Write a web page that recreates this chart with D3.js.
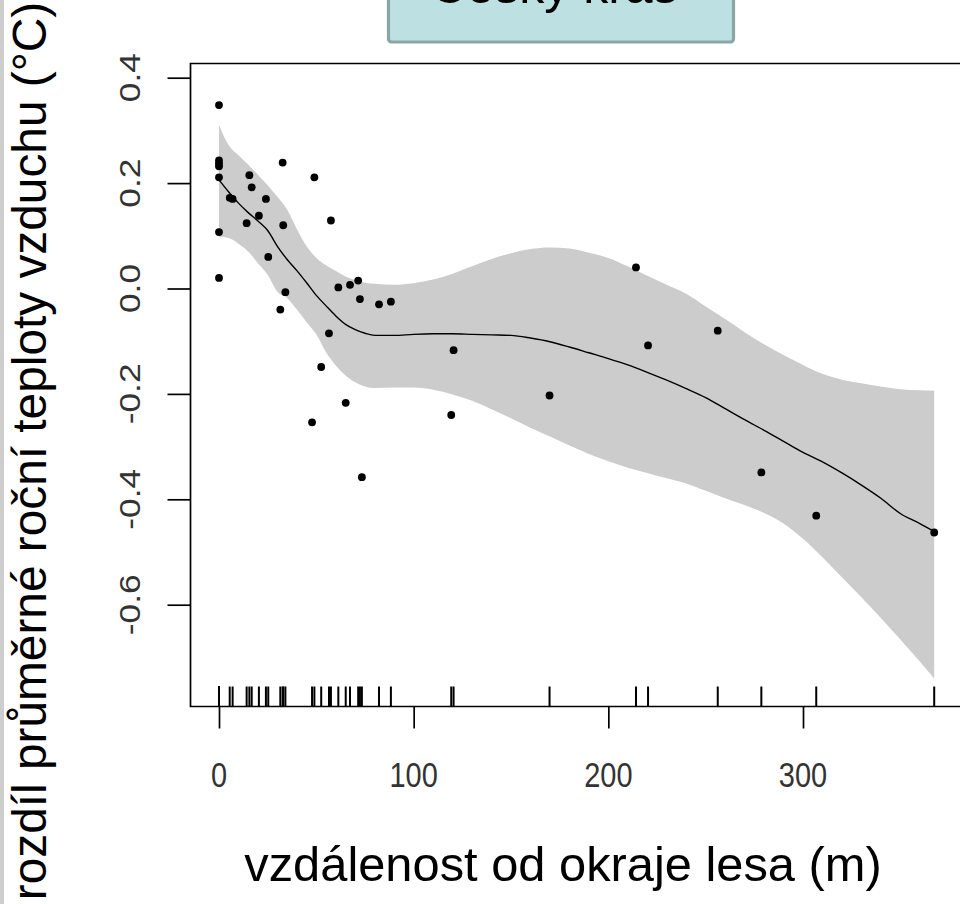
<!DOCTYPE html>
<html><head><meta charset="utf-8">
<script src="https://cdn.jsdelivr.net/npm/d3@7"></script>
<style>html,body{margin:0;padding:0;background:#fff;}svg{display:block;}</style>
</head><body>
<script>
// ---- data ----
const title = "Český kras";
const xLabel = "vzdálenost od okraje lesa (m)";
const yLabel = "rozdíl průměrné roční teploty vzduchu (°C)";
const xTicks = [0, 100, 200, 300];
const yTicks = [-0.6, -0.4, -0.2, 0.0, 0.2, 0.4];
const yTickLabels = ["-0.6", "-0.4", "-0.2", "0.0", "0.2", "0.4"];

const pointX = [0,0,0,0,0,0,0,5.5,7,15.6,16.8,14.2,20.5,24.1,25.3,32.7,33.0,34.1,31.5,49.0,57.5,56.5,61.3,67.3,71.5,72.4,82.2,88.3,52.5,65.1,47.8,73.4,120.5,119.3,169.8,214.2,220.4,256.2,278.6,306.8,367.4];
const pointY = [0.348,0.243,0.237,0.232,0.211,0.107,0.020,0.172,0.170,0.215,0.192,0.124,0.138,0.170,0.060,0.239,0.120,-0.007,-0.040,0.211,0.129,-0.085,0.002,0.007,0.015,-0.020,-0.030,-0.025,-0.149,-0.217,-0.254,-0.358,-0.117,-0.240,-0.203,0.040,-0.108,-0.080,-0.349,-0.431,-0.463];

const fitX = [0,5,10,15,20,25,30,35,40,45,50,55,60,65,70,75,80,90,100,110,120,130,140,150,160,170,180,190,200,210,220,230,240,250,260,270,280,290,300,310,320,330,340,350,360,367.4];
const fitY = [0.206,0.183,0.162,0.144,0.128,0.110,0.080,0.055,0.034,0.011,-0.013,-0.033,-0.052,-0.068,-0.078,-0.085,-0.089,-0.089,-0.087,-0.086,-0.086,-0.087,-0.088,-0.089,-0.094,-0.101,-0.111,-0.122,-0.133,-0.145,-0.159,-0.174,-0.190,-0.207,-0.228,-0.249,-0.269,-0.290,-0.311,-0.329,-0.350,-0.373,-0.398,-0.427,-0.446,-0.461];
const upperY = [0.310,0.272,0.253,0.235,0.216,0.196,0.174,0.150,0.113,0.080,0.058,0.044,0.033,0.023,0.016,0.011,0.009,0.007,0.010,0.017,0.028,0.042,0.056,0.067,0.075,0.078,0.076,0.068,0.058,0.042,0.024,0.007,-0.010,-0.034,-0.058,-0.083,-0.106,-0.126,-0.145,-0.162,-0.173,-0.180,-0.186,-0.191,-0.193,-0.194];
const lowerY = [0.098,0.096,0.085,0.070,0.048,0.026,-0.006,-0.018,-0.040,-0.064,-0.087,-0.121,-0.146,-0.165,-0.178,-0.186,-0.189,-0.188,-0.188,-0.192,-0.201,-0.213,-0.229,-0.246,-0.264,-0.281,-0.298,-0.314,-0.328,-0.340,-0.350,-0.360,-0.370,-0.384,-0.398,-0.411,-0.426,-0.446,-0.475,-0.510,-0.548,-0.586,-0.625,-0.666,-0.708,-0.740];

// ---- layout ----
const W = 960, H = 904;
const box = {left: 190.5, top: 63.5, right: 966, bottom: 706.5};
const x = d3.scaleLinear().domain([0, 300]).range([219, 803]);
const y = d3.scaleLinear().domain([-0.6, 0.4]).range([604.7, 77.7]);

const svg = d3.select("body").append("svg").attr("width", W).attr("height", H);
svg.append("rect").attr("width", W).attr("height", H).attr("fill", "#fff");

// left textured strip
svg.append("rect").attr("x", 0).attr("y", 0).attr("width", 4).attr("height", H).attr("fill", "#cdcdcd");

// band
const band = fitX.map((d, i) => ({x: d, lo: lowerY[i], hi: upperY[i], f: fitY[i]}));
svg.append("path").datum(band)
  .attr("d", d3.area().x(d => x(d.x)).y0(d => y(d.lo)).y1(d => y(d.hi)).curve(d3.curveMonotoneX))
  .attr("fill", "#cccccc");
svg.append("path").datum(band)
  .attr("d", d3.line().x(d => x(d.x)).y(d => y(d.f)).curve(d3.curveMonotoneX))
  .attr("fill", "none").attr("stroke", "#000").attr("stroke-width", 1.4);

// points
const pts = pointX.map((d, i) => ({x: d, y: pointY[i]}));
svg.append("g").selectAll("circle").data(pts).join("circle")
  .attr("cx", d => x(d.x)).attr("cy", d => y(d.y)).attr("r", 3.9).attr("fill", "#000");

// rug
svg.append("g").selectAll("line").data(pointX).join("line")
  .attr("x1", d => x(d)).attr("x2", d => x(d))
  .attr("y1", box.bottom - 20).attr("y2", box.bottom)
  .attr("stroke", "#000").attr("stroke-width", 2);

// box
svg.append("path")
  .attr("d", `M${box.right},${box.top}H${box.left}V${box.bottom}H${box.right}`)
  .attr("fill", "none").attr("stroke", "#000").attr("stroke-width", 1.7);

// axes
const gx = svg.append("g").attr("transform", `translate(0,${box.bottom})`)
  .call(d3.axisBottom(x).tickValues(xTicks).tickSize(22).tickSizeOuter(0).tickFormat(""));
const gy = svg.append("g").attr("transform", `translate(${box.left},0)`)
  .call(d3.axisLeft(y).tickValues(yTicks).tickSize(23).tickSizeOuter(0).tickFormat(""));
[gx, gy].forEach(g => {
  g.select(".domain").remove();
  g.selectAll(".tick line").attr("stroke", "#000").attr("stroke-width", 1.7);
});

const tickFont = "'Liberation Sans', Arial, sans-serif";
const tfs = 29, sy = 1.22;
svg.append("g").selectAll("text").data(xTicks).join("text")
  .attr("transform", d => `translate(${x(d)},${787}) scale(1,${sy})`)
  .attr("text-anchor", "middle").attr("font-family", tickFont).attr("font-size", tfs)
  .attr("fill", "#333").text(d => d);
svg.append("g").selectAll("text").data(yTicks).join("text")
  .attr("transform", (d, i) => `translate(${140},${y(d)}) scale(1,${sy}) rotate(-90)`)
  .attr("text-anchor", "middle").attr("font-family", tickFont).attr("font-size", tfs)
  .attr("fill", "#333").text((d, i) => yTickLabels[i]);

// axis titles
const titleFont = "'Liberation Sans', Arial, sans-serif";
svg.append("text").attr("x", 563).attr("y", 881).attr("text-anchor", "middle")
  .attr("font-family", titleFont).attr("font-size", 48.8).attr("fill", "#000").text(xLabel);
svg.append("text").attr("transform", "translate(46,451) rotate(-90)").attr("text-anchor", "middle")
  .attr("font-family", titleFont).attr("font-size", 47.8).attr("fill", "#000").text(yLabel);

// title box
svg.append("rect").attr("x", 388.5).attr("y", -20).attr("width", 345).attr("height", 62)
  .attr("rx", 3).attr("fill", "#bde0e3").attr("stroke", "#8aa5a6").attr("stroke-width", 3.2);
svg.append("text").attr("x", 554).attr("y", 3).attr("text-anchor", "middle")
  .attr("font-family", titleFont).attr("font-size", 50).attr("fill", "#000").text(title);
</script>
</body></html>
